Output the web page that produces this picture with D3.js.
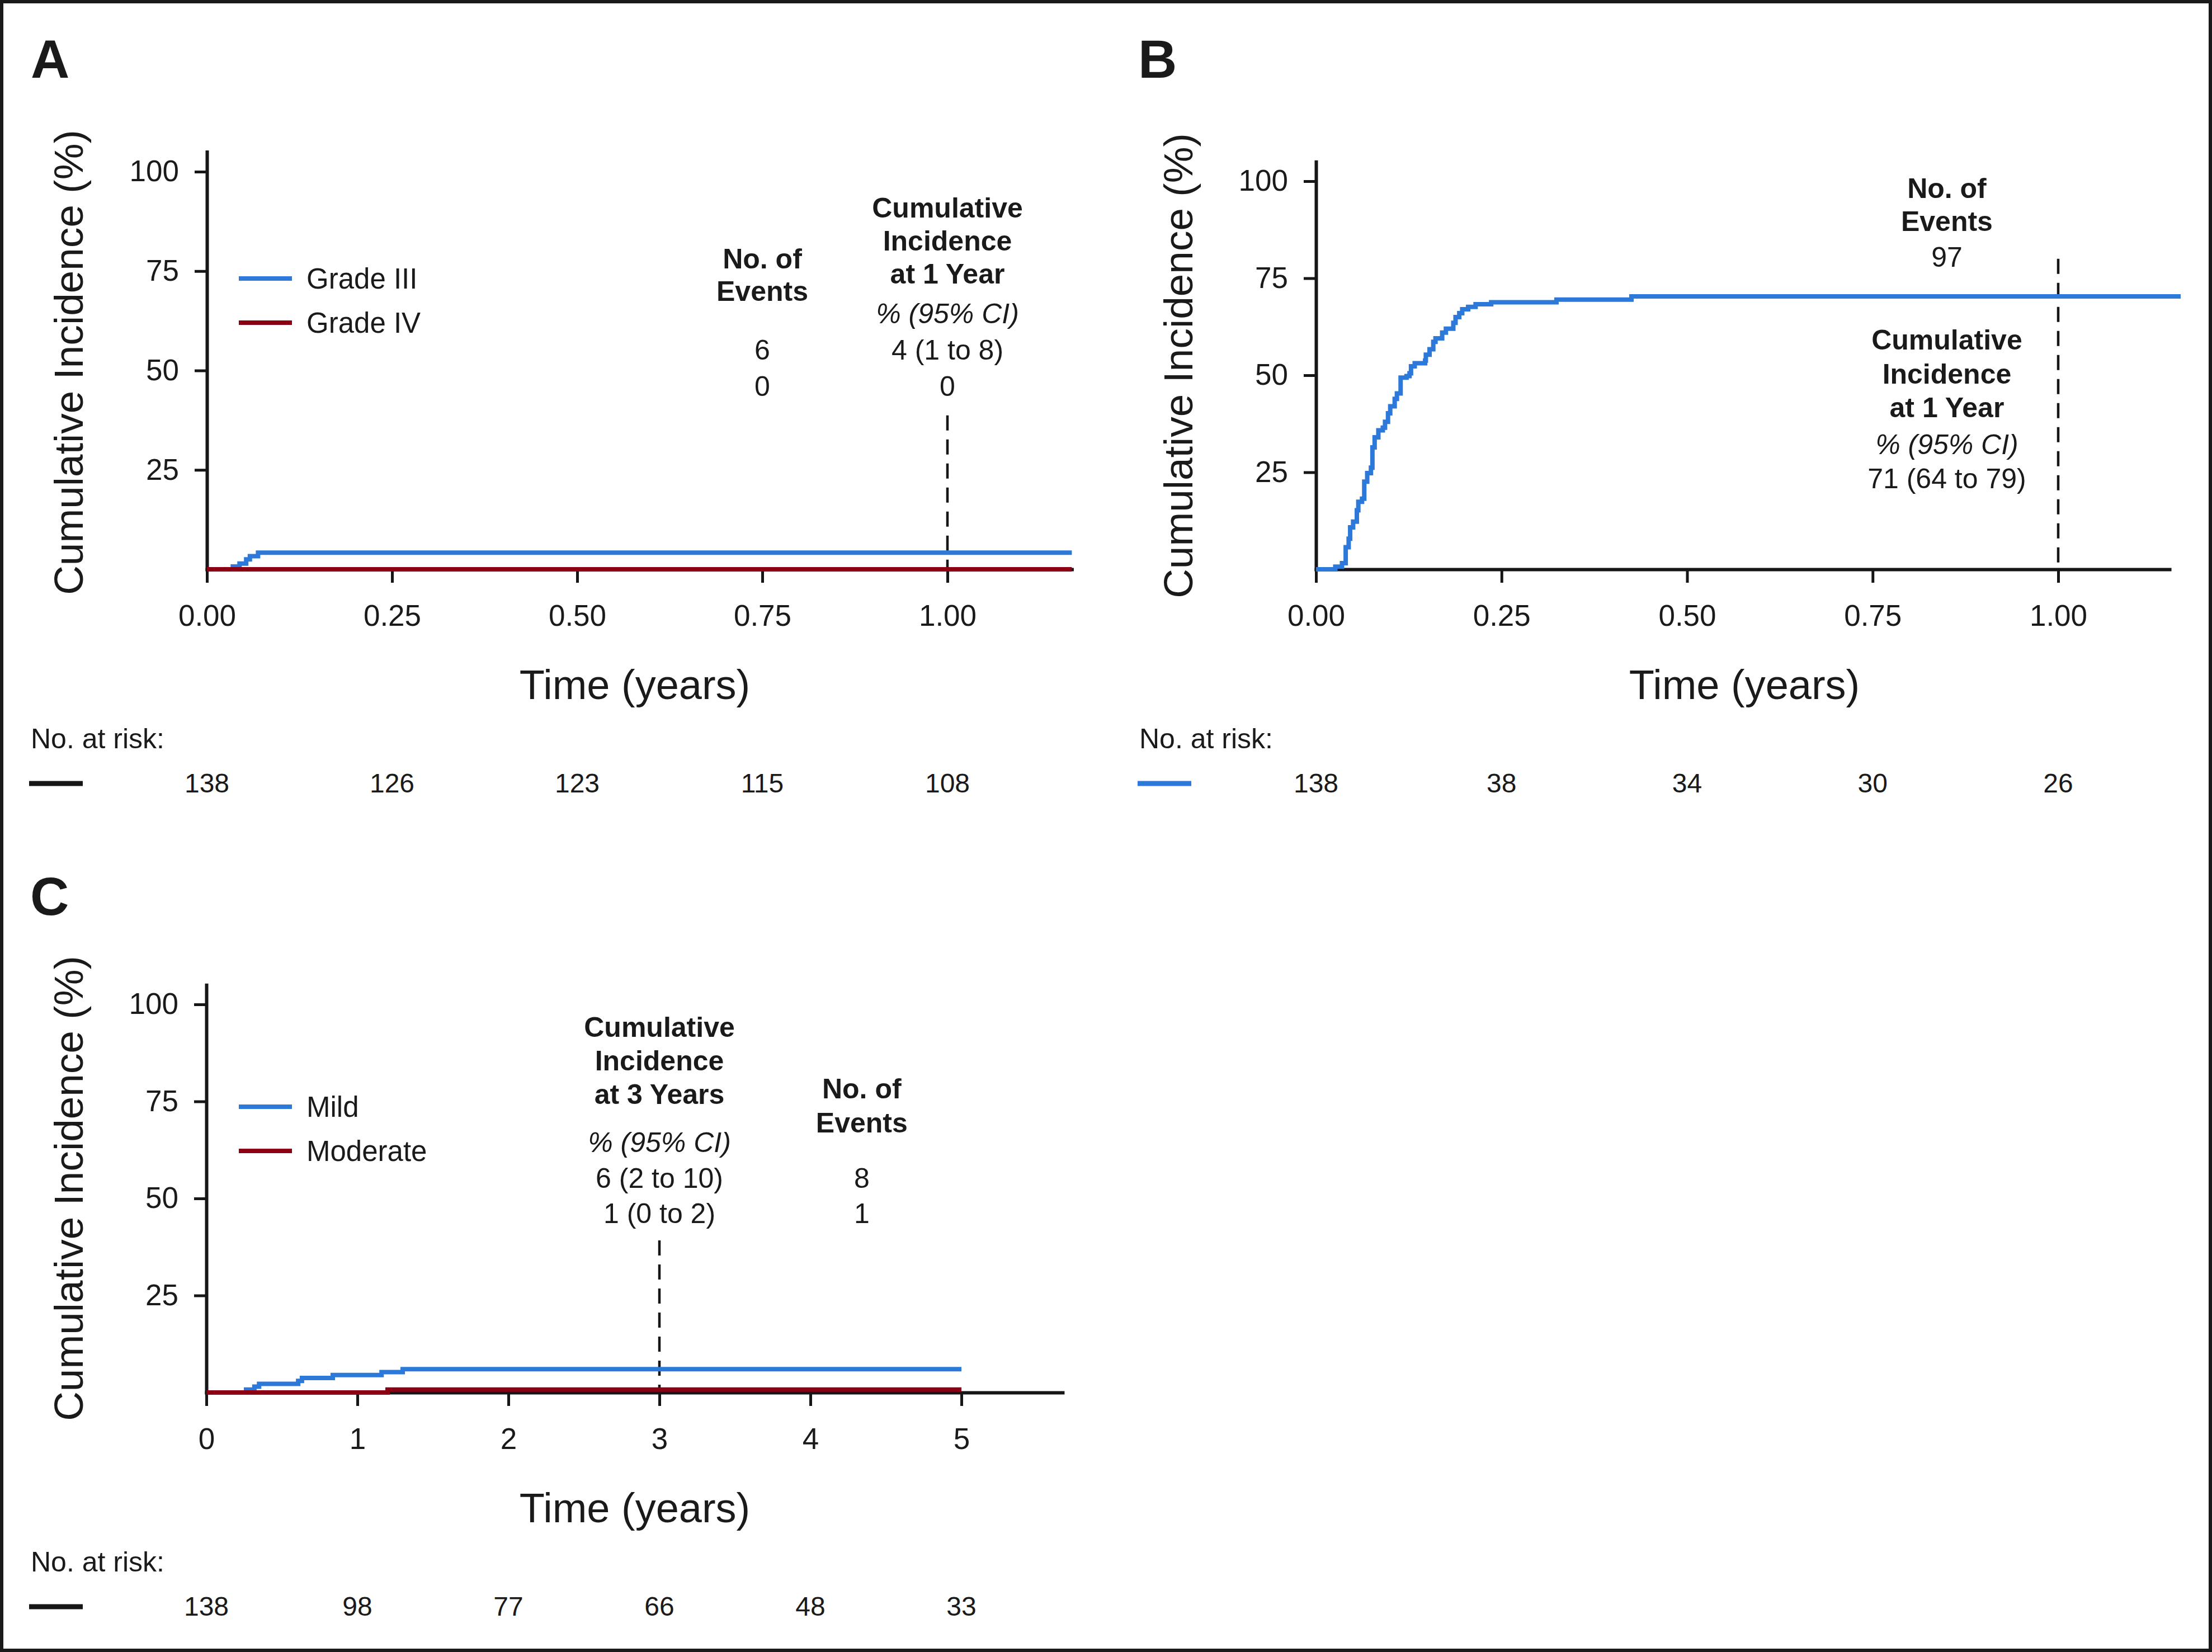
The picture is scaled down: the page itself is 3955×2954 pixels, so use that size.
<!DOCTYPE html>
<html>
<head>
<meta charset="utf-8">
<script src="https://cdn.jsdelivr.net/npm/d3@7"></script>
<style>
  body { margin: 0; background: #fff; }
  svg text { font-family: "Liberation Sans", Arial, Helvetica, sans-serif; fill: #1a1a1a; }
</style>
</head>
<body>
<script>
// ---- data ----
var yTicks = [25, 50, 75, 100];

// Panel A: grade III / grade IV
var aTimeTicks = [0, 0.25, 0.5, 0.75, 1];
var aGrade3Time = [0, 0.035, 0.044, 0.053, 0.058, 0.069, 1.168];
var aGrade3Inc = [0, 0.72, 1.45, 2.5, 3.3, 4.2, 4.2];
var aGrade4Time = [0, 1.168];
var aGrade4Inc = [0, 0];
var aLegend = ['Grade III', 'Grade IV'];
var aRisk = [138, 126, 123, 115, 108];
var aEvents = ['6', '0'];
var aCum = ['4 (1 to 8)', '0'];

// Panel B: single curve
var bTimeTicks = [0, 0.25, 0.5, 0.75, 1];
var bTime = [0, 0.026, 0.035, 0.040, 0.044, 0.046, 0.050, 0.055, 0.057, 0.062,
  0.065, 0.069, 0.074, 0.076, 0.079, 0.084, 0.090, 0.093, 0.097, 0.100,
  0.106, 0.109, 0.114, 0.122, 0.126, 0.128, 0.133, 0.147, 0.148, 0.153,
  0.158, 0.161, 0.170, 0.175, 0.185, 0.188, 0.193, 0.197, 0.205, 0.215,
  0.236, 0.324, 0.425, 1.165];
var bInc = [0, 0.7, 1.6, 5.7, 7.9, 10.8, 12.3, 15.2, 17.4, 18.2,
  22.6, 24.8, 26.2, 31.4, 34.0, 35.8, 36.5, 38.0, 40.2, 42.0,
  43.9, 45.3, 49.4, 49.8, 50.5, 52.3, 53.1, 53.8, 55.3, 56.7,
  58.6, 59.5, 61.0, 62.0, 63.5, 65.0, 66.0, 67.0, 67.6, 68.3,
  68.8, 69.5, 70.3, 70.3];
var bRisk = [138, 38, 34, 30, 26];
var bEvents = ['97'];
var bCum = ['71 (64 to 79)'];

// Panel C: mild / moderate
var cTimeTicks = [0, 1, 2, 3, 4, 5];
var cMildTime = [0, 0.263, 0.318, 0.349, 0.608, 0.633, 0.837, 1.16, 1.30, 5];
var cMildInc = [0, 0.75, 1.5, 2.25, 3.0, 3.75, 4.5, 5.25, 6.0, 6.0];
var cModTime = [0, 1.2, 5];
var cModInc = [0, 0.75, 0.75];
var cLegend = ['Mild', 'Moderate'];
var cRisk = [138, 98, 77, 66, 48, 33];
var cEvents = ['8', '1'];
var cCum = ['6 (2 to 10)', '1 (0 to 2)'];

var blue = '#2c79d9';
var red = '#8c0014';
var ink = '#161616';

var W = 3955, H = 2954;
var svg = d3.select('body').append('svg')
  .attr('width', W).attr('height', H)
  .attr('viewBox', '0 0 ' + W + ' ' + H);

svg.append('rect').attr('x', 0).attr('y', 0).attr('width', W).attr('height', H).attr('fill', '#fff');
svg.append('rect').attr('x', 3).attr('y', 3).attr('width', W - 6).attr('height', H - 6)
  .attr('fill', 'none').attr('stroke', '#1a1a1a').attr('stroke-width', 6);

function txt(g, x, y, s, o) {
  o = o || {};
  return g.append('text')
    .attr('x', x).attr('y', y)
    .attr('text-anchor', o.anchor || 'middle')
    .attr('font-size', o.size || 50)
    .attr('font-weight', o.bold ? 'bold' : 'normal')
    .attr('font-style', o.italic ? 'italic' : 'normal')
    .text(s);
}

function drawPanel(p) {
  var g = svg.append('g');
  var x = d3.scaleLinear().domain([0, p.xMax]).range([p.left, p.left + p.xMax * p.pxPerX]);
  var y = d3.scaleLinear().domain([0, 105]).range([p.base, p.base - 105 * p.pxPerY]);

  // panel letter
  txt(g, p.letterX, p.letterY, p.letter, { anchor: 'start', size: 96, bold: true });

  // reference dashed line
  g.append('line')
    .attr('x1', x(p.refX)).attr('x2', x(p.refX))
    .attr('y1', y(p.refTop)).attr('y2', y(0))
    .attr('stroke', ink).attr('stroke-width', 4.5)
    .attr('stroke-dasharray', '27,16');

  // axes
  var xAxis = d3.axisBottom(x).tickValues(p.xTicks).tickFormat(p.fmt)
    .tickSize(24).tickSizeOuter(0).tickPadding(39);
  var yAxis = d3.axisLeft(y).tickValues(yTicks).tickFormat(d3.format('d'))
    .tickSize(22).tickSizeOuter(0).tickPadding(28);

  [g.append('g').attr('transform', 'translate(0,' + p.base + ')').call(xAxis),
   g.append('g').attr('transform', 'translate(' + p.left + ',0)').call(yAxis)]
    .forEach(function (a) {
      a.attr('font-family', null).attr('font-size', null);
      a.select('.domain').attr('stroke', ink).attr('stroke-width', 6).attr('stroke-linecap', 'square');
      a.selectAll('.tick line').attr('stroke', ink).attr('stroke-width', 5);
      a.selectAll('.tick text').attr('font-size', 53).attr('fill', ink);
    });

  // axis titles
  txt(g, p.titleX, p.base + 232, 'Time (years)', { size: 74 });
  g.append('text')
    .attr('transform', 'translate(' + p.yTitleX + ',' + p.yTitleY + ') rotate(-90)')
    .attr('text-anchor', 'middle').attr('font-size', 73)
    .text('Cumulative Incidence (%)');

  // curves
  var line = d3.line()
    .x(function (d) { return x(d[0]); })
    .y(function (d) { return y(d[1]); })
    .curve(d3.curveStepAfter);
  p.series.forEach(function (s) {
    g.append('path')
      .datum(d3.zip(s.time, s.inc))
      .attr('d', line)
      .attr('fill', 'none')
      .attr('stroke', s.color)
      .attr('stroke-width', 8);
  });

  // legend
  if (p.legend) {
    p.legend.forEach(function (name, i) {
      var ly = p.legendY[i];
      g.append('line').attr('x1', 427).attr('x2', 522).attr('y1', ly).attr('y2', ly)
        .attr('stroke', p.series[i].color).attr('stroke-width', 8);
      txt(g, 548, ly + 18, name, { anchor: 'start', size: 51 });
    });
  }

  // annotation columns
  p.notes.forEach(function (col) {
    col.lines.forEach(function (l) {
      txt(g, x(col.at), l[1], l[0], { bold: l[2] === 'b', italic: l[2] === 'i' });
    });
  });

  // number at risk
  txt(g, p.riskX, p.base + 320, 'No. at risk:', { anchor: 'start' });
  g.append('line')
    .attr('x1', p.riskX - 3).attr('x2', p.riskX + 93)
    .attr('y1', p.base + 383).attr('y2', p.base + 383)
    .attr('stroke', p.riskColor).attr('stroke-width', 9);
  p.risk.forEach(function (n, i) {
    txt(g, x(p.xTicks[i]), p.base + 399, n, { size: 48 });
  });
}

drawPanel({
  letter: 'A', letterX: 55, letterY: 139,
  left: 370, base: 1018, pxPerX: 1324, pxPerY: 7.11, xMax: 1.168,
  xTicks: aTimeTicks, fmt: d3.format('.2f'),
  refX: 1, refTop: 38.7,
  titleX: 1135, yTitleX: 148, yTitleY: 648,
  series: [
    { time: aGrade3Time, inc: aGrade3Inc, color: blue },
    { time: aGrade4Time, inc: aGrade4Inc, color: red }
  ],
  legend: aLegend, legendY: [498, 577],
  notes: [
    { at: 0.75, lines: [['No. of', 480, 'b'], ['Events', 538, 'b'], [aEvents[0], 643], [aEvents[1], 708]] },
    { at: 1, lines: [['Cumulative', 389, 'b'], ['Incidence', 448, 'b'], ['at 1 Year', 507, 'b'],
      ['% (95% CI)', 578, 'i'], [aCum[0], 643], [aCum[1], 708]] }
  ],
  riskX: 55, riskColor: ink, risk: aRisk
});

drawPanel({
  letter: 'B', letterX: 2035, letterY: 139,
  left: 2353, base: 1018, pxPerX: 1327, pxPerY: 6.94, xMax: 1.15,
  xTicks: bTimeTicks, fmt: d3.format('.2f'),
  refX: 1, refTop: 80,
  titleX: 3119, yTitleX: 2132, yTitleY: 654,
  series: [{ time: bTime, inc: bInc, color: blue }],
  legend: null,
  notes: [
    { at: 0.85, lines: [['No. of', 354, 'b'], ['Events', 413, 'b'], [bEvents[0], 477],
      ['Cumulative', 625, 'b'], ['Incidence', 686, 'b'], ['at 1 Year', 746, 'b'],
      ['% (95% CI)', 812, 'i'], [bCum[0], 873]] }
  ],
  riskX: 2037, riskColor: blue, risk: bRisk
});

drawPanel({
  letter: 'C', letterX: 54, letterY: 1636,
  left: 369, base: 2490, pxPerX: 270, pxPerY: 6.94, xMax: 5.67,
  xTicks: cTimeTicks, fmt: d3.format('d'),
  refX: 3, refTop: 39.2,
  titleX: 1135, yTitleX: 148, yTitleY: 2125,
  series: [
    { time: cMildTime, inc: cMildInc, color: blue },
    { time: cModTime, inc: cModInc, color: red }
  ],
  legend: cLegend, legendY: [1979, 2058],
  notes: [
    { at: 3, lines: [['Cumulative', 1854, 'b'], ['Incidence', 1914, 'b'], ['at 3 Years', 1974, 'b'],
      ['% (95% CI)', 2060, 'i'], [cCum[0], 2124], [cCum[1], 2187]] },
    { at: 4.34, lines: [['No. of', 1964, 'b'], ['Events', 2025, 'b'], [cEvents[0], 2124], [cEvents[1], 2187]] }
  ],
  riskX: 55, riskColor: ink, risk: cRisk
});
</script>
</body>
</html>
